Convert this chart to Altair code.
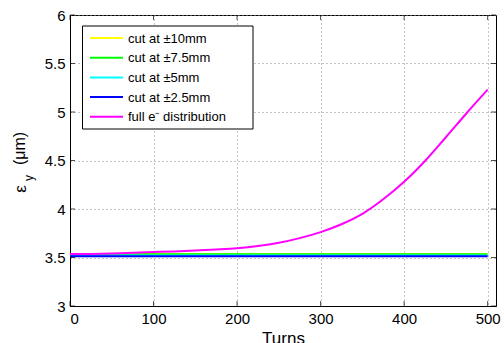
import altair as alt
import pandas as pd

# ---- data ----
turns_full = [0, 25, 50, 75, 100, 125, 150, 175, 200, 225, 250, 275, 300,
              325, 350, 375, 400, 425, 450, 475, 500]
full_vals = [3.535, 3.537, 3.542, 3.549, 3.556, 3.563, 3.572, 3.582, 3.595,
             3.618, 3.652, 3.700, 3.762, 3.843, 3.950, 4.100, 4.280, 4.495,
             4.740, 4.990, 5.230]

turns_cut = [0, 100, 200, 300, 400, 500]
cut10 = [3.535, 3.535, 3.535, 3.535, 3.535, 3.535]
cut75 = [3.534, 3.534, 3.534, 3.534, 3.534, 3.534]
cut5 = [3.520, 3.520, 3.520, 3.520, 3.520, 3.520]
cut25 = [3.513, 3.513, 3.513, 3.513, 3.513, 3.513]

series_names = ["cut at ±10mm", "cut at ±7.5mm", "cut at ±5mm",
                "cut at ±2.5mm", "full e⁻ distribution"]
series_colors = ["#ffff00", "#00ff00", "#00ffff", "#0000ff", "#ff00ff"]

x_ticks = [0, 100, 200, 300, 400, 500]
y_ticks = [3, 3.5, 4, 4.5, 5, 5.5, 6]

FONT = "Liberation Sans"
W, H = 426, 291

rows = []
for name, vals in zip(series_names[:4], [cut10, cut75, cut5, cut25]):
    for t, v in zip(turns_cut, vals):
        rows.append({"series": name, "turns": t, "eps": v})
for t, v in zip(turns_full, full_vals):
    rows.append({"series": series_names[4], "turns": t, "eps": v})
df = pd.DataFrame(rows)

xscale = alt.Scale(domain=[0, 510], nice=False, zero=False)
yscale = alt.Scale(domain=[3, 6], nice=False, zero=False)

lines = alt.Chart(df).mark_line(strokeWidth=2, clip=True, interpolate="monotone").encode(
    x=alt.X("turns:Q", scale=xscale,
            axis=alt.Axis(values=x_ticks, title="Turns", format="d")),
    y=alt.Y("eps:Q", scale=yscale,
            axis=alt.Axis(values=y_ticks, title=None, format="~g")),
    color=alt.Color("series:N", scale=alt.Scale(domain=series_names,
                                                range=series_colors),
                    legend=None),
    order=alt.Order("order:Q"),
    detail="series:N",
).transform_calculate(
    order="indexof(" + str(series_names) + ", datum.series)"
)

# inward ticks (MATLAB style) on all four sides
xt = pd.DataFrame({"t": x_ticks})
yt = pd.DataFrame({"v": y_ticks})
tick_layers = []
for yy in [H - 2.5, 2.5]:
    tick_layers.append(alt.Chart(xt).mark_tick(color="black", size=5, thickness=1).encode(
        x=alt.X("t:Q", scale=xscale), y=alt.value(yy)))
for xx in [2.5, W - 2.5]:
    tick_layers.append(alt.Chart(yt).mark_tick(color="black", size=5, thickness=1).encode(
        y=alt.Y("v:Q", scale=yscale), x=alt.value(xx)))

# legend box (manual, MATLAB style)
box = alt.Chart(pd.DataFrame({"a": [0]})).mark_rect(
    fill="white", stroke="black", strokeWidth=1).encode(
    x=alt.value(12.5), x2=alt.value(183), y=alt.value(11), y2=alt.value(114))

leg_layers = [box]
for i, (name, col) in enumerate(zip(series_names, series_colors)):
    yy = 23 + 19.7 * i
    leg_layers.append(alt.Chart(pd.DataFrame({"a": [0]})).mark_rule(
        color=col, strokeWidth=2).encode(
        x=alt.value(20), x2=alt.value(53), y=alt.value(yy)))
    leg_layers.append(alt.Chart(pd.DataFrame({"a": [0]})).mark_text(
        text=name, align="left", baseline="middle", font=FONT, fontSize=13,
        color="black").encode(x=alt.value(58), y=alt.value(yy + 0.5)))

# y-axis title: ε with subscript y, then (μm), rotated
ytitle = [
    alt.Chart(pd.DataFrame({"a": [0]})).mark_text(
        text="ε", angle=270, align="center", baseline="middle", font=FONT,
        fontSize=17, color="black").encode(x=alt.value(-49.5), y=alt.value(174)),
    alt.Chart(pd.DataFrame({"a": [0]})).mark_text(
        text="y", angle=270, align="center", baseline="middle", font=FONT,
        fontSize=12, color="black").encode(x=alt.value(-41.5), y=alt.value(163)),
    alt.Chart(pd.DataFrame({"a": [0]})).mark_text(
        text="(μm)", angle=270, align="center", baseline="middle", font=FONT,
        fontSize=16, color="black").encode(x=alt.value(-50.5), y=alt.value(133.5)),
]

chart = alt.layer(lines, *tick_layers, *leg_layers, *ytitle).properties(
    width=W, height=H,
    autosize=alt.AutoSizeParams(type="none"),
    padding={"left": 70, "top": 15, "right": 8, "bottom": 37},
    background="white",
).configure_view(
    stroke="black", strokeWidth=1
).configure_axis(
    labelFont=FONT, labelFontSize=15, labelColor="black",
    titleFont=FONT, titleFontSize=17, titleColor="black", titleFontWeight="normal",
    grid=True, gridColor="#888888", gridDash=[1, 3], gridWidth=1,
    ticks=False, domainColor="black", domainWidth=1,
).configure_axisX(
    labelPadding=5, titlePadding=4
).configure_axisY(
    labelPadding=5
)

chart.save("out.html", embed_options={"renderer": "svg", "actions": False})
